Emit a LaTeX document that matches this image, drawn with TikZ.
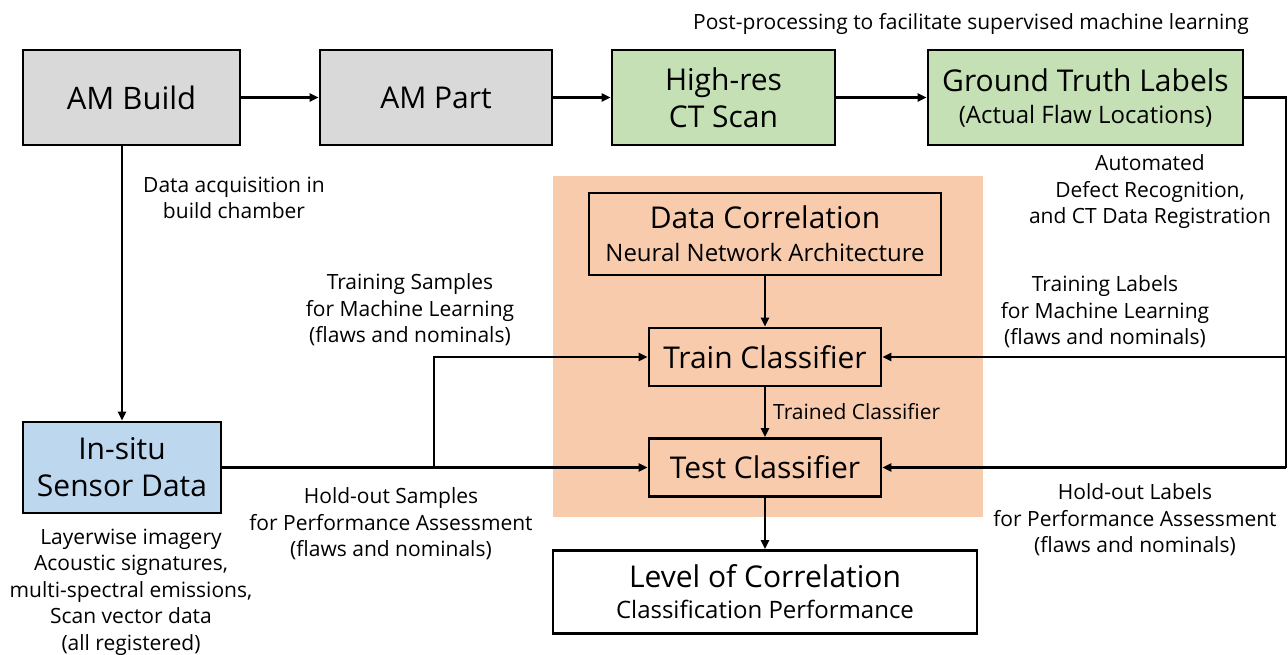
\documentclass[tikz,border=0pt]{standalone}
\usepackage{fontspec}
\setmainfont{Open Sans}
\usetikzlibrary{arrows.meta}
\definecolor{boxgray}{HTML}{D9D9D9}
\definecolor{boxgreen}{HTML}{C5E0B4}
\definecolor{boxblue}{HTML}{BDD7EE}
\definecolor{panelorange}{HTML}{F8CBAD}
\newcommand{\bigtxt}{\fontsize{30}{37}\selectfont}
\newcommand{\midtxt}{\fontsize{24}{29}\selectfont}
\newcommand{\lbltxt}{\fontsize{21}{26.5}\selectfont}
\begin{document}
\begin{tikzpicture}[x=1pt,y=-1pt,
  box/.style={draw,line width=2.6pt,inner sep=0pt,align=center},
  conn/.style={line width=2.3pt,-{Triangle[length=9pt,width=8pt]}},
  wire/.style={line width=2.3pt},
  lab/.style={align=center,inner sep=0pt,font=\lbltxt}]
\useasboundingbox (0,0) rectangle (1288,654);

% panel behind the classifier stages
\fill[panelorange] (553,176) rectangle (983,517);

% top row: build, part, CT scan, ground truth
\node[box,fill=boxgray,minimum width=217pt,minimum height=95pt,font=\fontsize{31}{37}\selectfont] (build) at (131.5,97.5) {AM Build};
\node[box,fill=boxgray,minimum width=232pt,minimum height=95pt,font=\bigtxt] (part) at (436,97.5) {AM Part};
\node[box,fill=boxgreen,minimum width=223pt,minimum height=95pt,font=\bigtxt] (ct) at (723.5,97.5) {High-res\\CT Scan};
\node[box,fill=boxgreen,minimum width=315pt,minimum height=95pt,font=\midtxt] (gt) at (1085.5,97.5) {{\bigtxt Ground Truth Labels}\\[3pt](Actual Flaw Locations)};

% sensor data
\node[box,fill=boxblue,minimum width=198pt,minimum height=91pt,font=\bigtxt] (insitu) at (122,467.5) {In-situ\\Sensor Data};

% classifier stages
\node[box,minimum width=352pt,minimum height=82pt,font=\midtxt] (dc) at (765,234) {{\bigtxt Data Correlation}\\[4pt]Neural Network Architecture};
\node[box,minimum width=232pt,minimum height=58pt,font=\bigtxt] (train) at (765,357) {Train Classifier};
\node[box,minimum width=232pt,minimum height=58pt,font=\bigtxt] (test) at (765,467.5) {Test Classifier};
\node[box,fill=white,minimum width=424pt,minimum height=83pt,font=\midtxt] (level) at (765,592) {{\bigtxt Level of Correlation}\\[2pt]Classification Performance};

% connectors
\draw[conn] (build) -- (part);
\draw[conn] (part) -- (ct);
\draw[conn] (ct) -- (gt);
\draw[conn] (insitu.north |- build.south) -- (insitu.north);
\draw[conn] (dc) -- (train);
\draw[conn] (train) -- (test);
\draw[conn] (test) -- (level);

\coordinate (rtop) at (1286,97.5);
\coordinate (rtrain) at (1286,357);
\coordinate (rtest) at (1286,467.5);
\draw[wire] (gt.east) -- (rtop) -- (rtest);
\draw[conn] (rtrain) -- (train.east);
\draw[conn] (rtest) -- (test.east);

\coordinate (split) at (434,467.5);
\draw[conn] (insitu.east) -- (test.west);
\draw[conn] (split) |- (train.west);

% labels
\node[lab] (post) at (971,24) {Post-processing to facilitate supervised machine learning};
\node[lab] (acq) at (234,198) {Data acquisition in\\build chamber};
\node[lab] (trs) at (410,310) {Training Samples\\for Machine Learning\\(flaws and nominals)};
\node[lab] (hos) at (391,524) {Hold-out Samples\\for Performance Assessment\\(flaws and nominals)};
\node[lab] (sens) at (131,592) {Layerwise imagery\\Acoustic signatures,\\multi-spectral emissions,\\Scan vector data\\(all registered)};
\node[lab] (adr) at (1150,192) {Automated\\Defect Recognition,\\and CT Data Registration};
\node[lab] (trl) at (1105,312) {Training Labels\\for Machine Learning\\(flaws and nominals)};
\node[lab] (hol) at (1135,520) {Hold-out Labels\\for Performance Assessment\\(flaws and nominals)};
\node[lab,anchor=west] (tc) at (773,412) {Trained Classifier};
\end{tikzpicture}
\end{document}
